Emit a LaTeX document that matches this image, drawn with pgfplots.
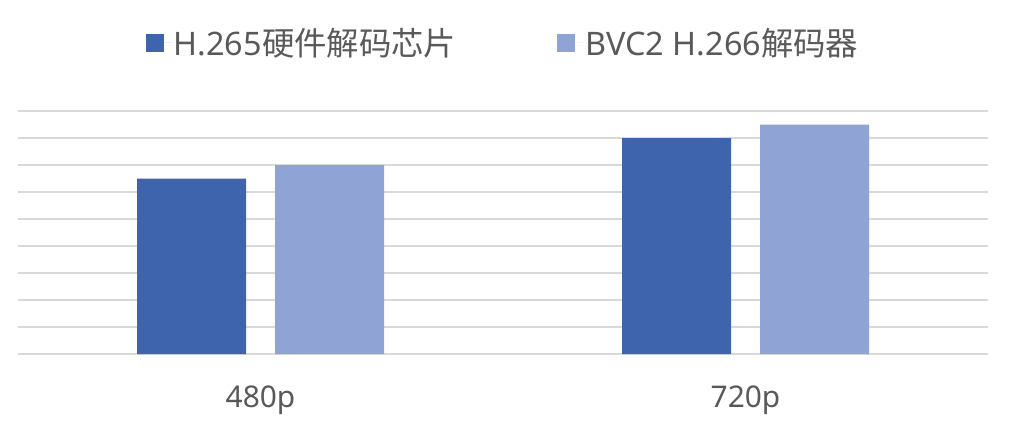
\documentclass[border=0pt]{standalone}
\usepackage{pgfplots}
\pgfplotsset{compat=1.18}
\usepackage{fontspec}
\setmainfont{Noto Sans}
\newfontfamily\cjk{Noto Sans CJK SC}
\definecolor{darkbar}{RGB}{61,100,172}
\definecolor{lightbar}{RGB}{143,164,212}
\definecolor{txt}{RGB}{89,89,89}
\definecolor{gridc}{RGB}{217,217,217}
\begin{document}
\begin{tikzpicture}[x=1bp,y=1bp]
\path (0,0) rectangle (1010,423);
\begin{axis}[
    at={(18bp,69bp)}, anchor=south west,
    scale only axis, width=970bp, height=243bp,
    ybar=29bp, bar width=109bp,
    xmin=-0.5, xmax=1.5, ymin=0, ymax=9,
    axis line style={draw=none},
    ytick={0,1,...,9}, yticklabels={},
    ymajorgrids, grid style={gridc, line width=1.4bp},
    xtick={0,1}, xticklabels={480p,720p},
    major tick length=0pt,
    xticklabel style={anchor=base, yshift=-53bp, text=txt,
        font=\fontsize{30}{36}\selectfont},
    legend columns=2,
    legend style={at={(0.5,1)}, anchor=center, yshift=68bp,
        draw=none, fill=none, text=txt,
        font=\fontsize{32.5}{38}\selectfont,
        /tikz/every even column/.append style={column sep=99bp}},
    legend image code/.code={\fill[#1,draw=none] (0bp,-9bp) rectangle (18bp,9bp);
        \path (0bp,0bp) -- (26bp,0bp);},
]
\addplot[fill=darkbar, draw=none] coordinates {(0,6.5) (1,8.0)};
\addlegendentry{H.265{\cjk 硬件解码芯片}}
\addplot[fill=lightbar, draw=none] coordinates {(0,7.0) (1,8.5)};
\addlegendentry{BVC2 H.266{\cjk 解码器}}
\end{axis}
\end{tikzpicture}
\end{document}
